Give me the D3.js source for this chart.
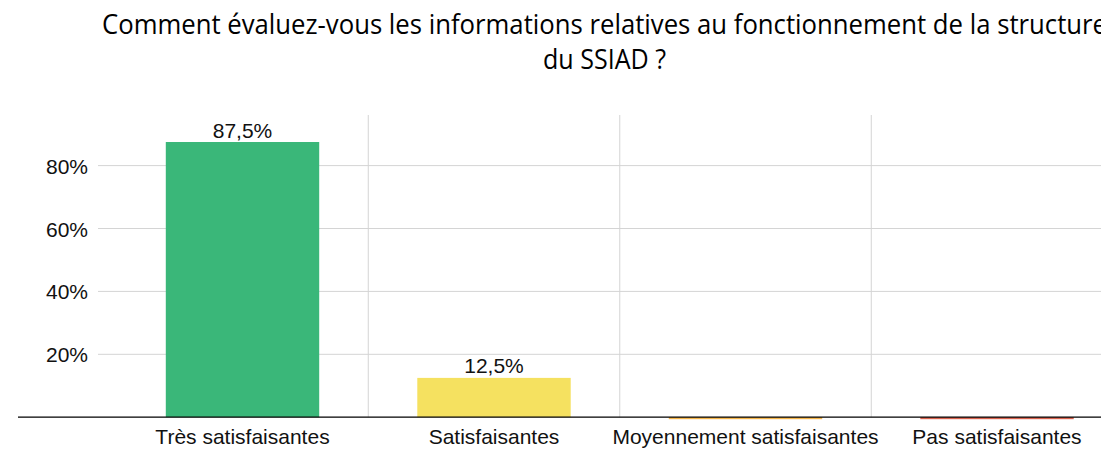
<!DOCTYPE html>
<html>
<head>
<meta charset="utf-8">
<script src="https://cdn.jsdelivr.net/npm/d3@7"></script>
<style>
  body{margin:0;background:#fff;}
  svg{display:block;}
</style>
</head>
<body>
<svg id="chart" width="1101" height="449"></svg>
<script>
var categories=["Très satisfaisantes","Satisfaisantes","Moyennement satisfaisantes","Pas satisfaisantes"];
var values=[87.5,12.5,0,0];
var valueLabels=["87,5%","12,5%","",""];
var barColors=["#3ab779","#f5e160","#f5b54a","#d9634f"];
var yTicks=[20,40,60,80];
var titleLines=["Comment évaluez-vous les informations relatives au fonctionnement de la structure","du SSIAD ?"];

var svg=d3.select("#chart");
var W=1101,H=449;
var baseY=417.2;

var x=d3.scaleBand().domain(categories).range([116.75,1122.75]).paddingInner(0.39).paddingOuter(0.195);
var y=d3.scaleLinear().domain([0,100]).range([baseY,baseY-314.5]);

// horizontal grid
svg.append("g").selectAll("line").data(yTicks).enter().append("line")
    .attr("x1",98).attr("x2",W)
    .attr("y1",function(d){return y(d);}).attr("y2",function(d){return y(d);})
    .attr("stroke","#d4d4d4").attr("stroke-width",1);

// vertical grid between categories
var step=x.step();
svg.append("g").selectAll("line").data(categories.slice(1)).enter().append("line")
    .attr("x1",function(d){return x(d)+x.bandwidth()/2-step/2;})
    .attr("x2",function(d){return x(d)+x.bandwidth()/2-step/2;})
    .attr("y1",115).attr("y2",baseY)
    .attr("stroke","#d4d4d4").attr("stroke-width",1);

// y tick labels
svg.append("g").selectAll("text").data(yTicks).enter().append("text")
    .attr("x",88).attr("y",function(d){return y(d)+8;})
    .attr("text-anchor","end")
    .style("font-family","'Liberation Sans', Arial, sans-serif").style("font-size","21px").style("fill","#111")
    .text(function(d){return d+"%";});

// bars
svg.append("g").selectAll("rect").data(values).enter().append("rect")
    .attr("x",function(d,i){return x(categories[i]);})
    .attr("width",x.bandwidth())
    .attr("y",function(d){return d>0?y(d):baseY;})
    .attr("height",function(d){return d>0?baseY-y(d):2;})
    .attr("fill",function(d,i){return barColors[i];});

// axis line
svg.append("line").attr("x1",18).attr("x2",W).attr("y1",baseY).attr("y2",baseY)
    .attr("stroke","#000").attr("stroke-width",1.2);

// value labels
svg.append("g").selectAll("text").data(values).enter().append("text")
    .attr("x",function(d,i){return x(categories[i])+x.bandwidth()/2;})
    .attr("y",function(d){return y(d)-4.5;})
    .attr("text-anchor","middle")
    .style("font-family","'Liberation Sans', Arial, sans-serif").style("font-size","21px").style("fill","#111")
    .text(function(d,i){return valueLabels[i];});

// category labels
svg.append("g").selectAll("text").data(categories).enter().append("text")
    .attr("x",function(d){return x(d)+x.bandwidth()/2;})
    .attr("y",444)
    .attr("text-anchor","middle")
    .style("font-family","'Liberation Sans', Arial, sans-serif").style("font-size","21px").style("fill","#111")
    .text(function(d){return d;});

// title
var titleW=[1005,123];
var titleY=[34,69];
svg.append("g").selectAll("text").data(titleLines).enter().append("text")
    .attr("x",604.5).attr("y",function(d,i){return titleY[i];})
    .attr("text-anchor","middle")
    .attr("textLength",function(d,i){return titleW[i];})
    .attr("lengthAdjust","spacingAndGlyphs")
    .style("font-family","'Open Sans', sans-serif").style("font-size","26.5px").style("fill","#000")
    .text(function(d){return d;});
</script>
</body>
</html>
